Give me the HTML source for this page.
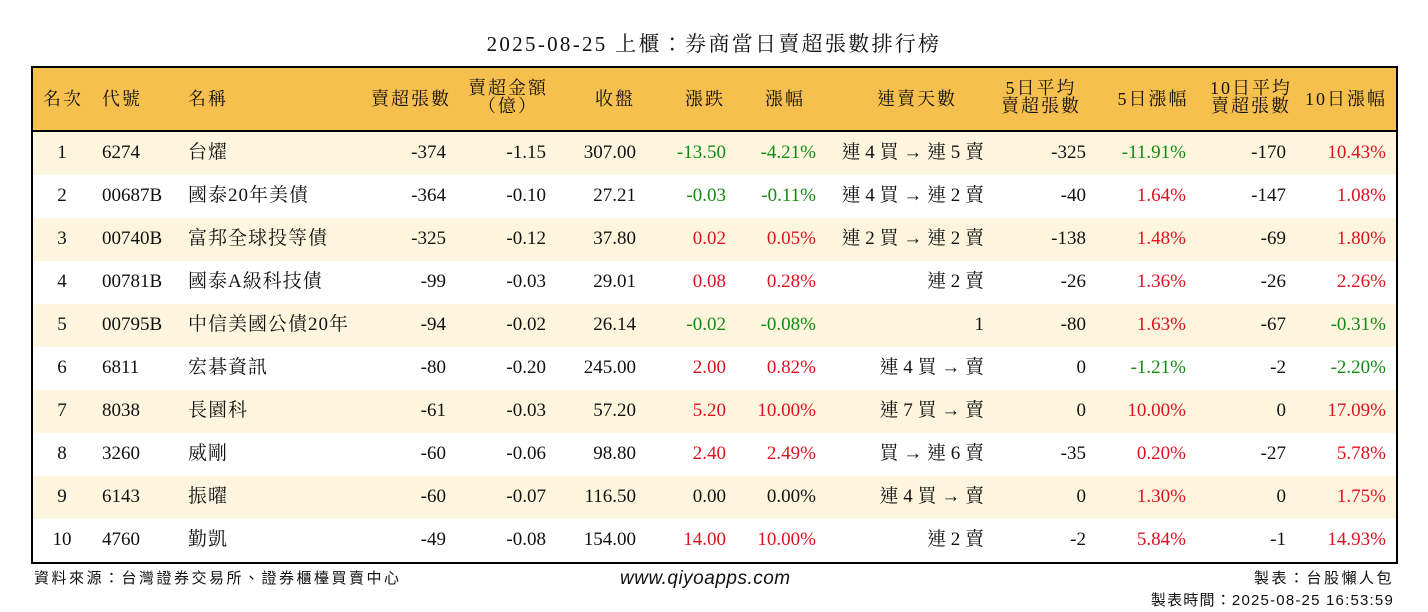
<!DOCTYPE html>
<html><head><meta charset="utf-8">
<style>
body{margin:0;width:1428px;height:612px;background:#fff;position:relative;overflow:hidden;font-family:"Liberation Serif","Noto Serif CJK TC","Noto Serif CJK SC",serif;color:#111}
#title{position:absolute;top:28px;left:0;width:1428px;text-align:center;font-size:21px;letter-spacing:2.3px}
#tbl{position:absolute;left:31px;top:66px;width:1363px;height:494px;border:2px solid #000;overflow:hidden}
#hdr{position:absolute;left:0;top:0;width:100%;height:62px;background:#F6C04E;border-bottom:2px solid #000}
.row{position:absolute;left:0;width:100%;height:43px}
.c{position:absolute;white-space:nowrap;font-size:19px;line-height:22px}
.h{font-size:18px;line-height:18px;text-align:center;letter-spacing:2px}
.g{color:#138a13}.r{color:#e0101e}
.foot{position:absolute;font-size:15px;font-family:"Liberation Sans","Noto Sans CJK TC",sans-serif;letter-spacing:2.5px}
</style></head><body>
<div id="title">2025-08-25 上櫃：券商當日賣超張數排行榜</div>
<div id="tbl"><div id="hdr"></div></div>
<div class="foot" style="left:34px;top:567px">資料來源：台灣證券交易所、證券櫃檯買賣中心</div>
<div class="foot" style="left:620px;top:568px;font-size:19px;font-style:italic;letter-spacing:0.5px">www.qiyoapps.com</div>
<div class="foot" style="right:34px;top:567px">製表：台股懶人包</div>
<div class="foot" style="right:34px;top:589px;letter-spacing:1.2px">製表時間：2025-08-25 16:53:59</div>
<script>
const ranks=["1","2","3","4","5","6","7","8","9","10"];
const codes=["6274","00687B","00740B","00781B","00795B","6811","8038","3260","6143","4760"];
const names=["台燿","國泰20年美債","富邦全球投等債","國泰A級科技債","中信美國公債20年","宏碁資訊","長園科","威剛","振曜","勤凱"];
const sellVol=[-374,-364,-325,-99,-94,-80,-61,-60,-60,-49];
const sellAmt=["-1.15","-0.10","-0.12","-0.03","-0.02","-0.20","-0.03","-0.06","-0.07","-0.08"];
const closes=["307.00","27.21","37.80","29.01","26.14","245.00","57.20","98.80","116.50","154.00"];
const changes=["-13.50","-0.03","0.02","0.08","-0.02","2.00","5.20","2.40","0.00","14.00"];
const pcts=["-4.21%","-0.11%","0.05%","0.28%","-0.08%","0.82%","10.00%","2.49%","0.00%","10.00%"];
const streaks=["連 4 買 → 連 5 賣","連 4 買 → 連 2 賣","連 2 買 → 連 2 賣","連 2 賣","1","連 4 買 → 賣","連 7 買 → 賣","買 → 連 6 賣","連 4 買 → 賣","連 2 賣"];
const avg5=[-325,-40,-138,-26,-80,0,0,-35,0,-2];
const pct5=["-11.91%","1.64%","1.48%","1.36%","1.63%","-1.21%","10.00%","0.20%","1.30%","5.84%"];
const avg10=[-170,-147,-69,-26,-67,-2,0,-27,0,-1];
const pct10=["10.43%","1.08%","1.80%","2.26%","-0.31%","-2.20%","17.09%","5.78%","1.75%","14.93%"];
const headers=["名次","代號","名稱","賣超張數","賣超金額<br>（億）","收盤","漲跌","漲幅","連賣天數","5日平均<br>賣超張數","5日漲幅","10日平均<br>賣超張數","10日漲幅"];
const cols=[{x:29,a:"c"},{x:69,a:"l"},{x:155,a:"l"},{x:413,a:"r"},{x:513,a:"r"},{x:603,a:"r"},{x:693,a:"r"},{x:783,a:"r"},{x:951,a:"r"},{x:1053,a:"r"},{x:1153,a:"r"},{x:1253,a:"r"},{x:1353,a:"r"}];
const hdrC=[30,51,170,378,475,582,672,752,884,1008,1120,1218,1313];
const tbl=document.getElementById('tbl'),hdr=document.getElementById('hdr');
headers.forEach((h,i)=>{const d=document.createElement('div');d.className='c h';d.innerHTML=h;


hdr.appendChild(d);const two=h.includes('<br>');d.style.top=(two?11:22)+'px';d.style.left=(hdrC[i]-60)+'px';d.style.width='120px';
if(i==1||i==2){d.style.textAlign='left';d.style.left=cols[i].x+'px';}});
function cls(v){return String(v).startsWith('-')?'g':(parseFloat(v)>0?'r':'');}
for(let k=0;k<10;k++){
 const row=document.createElement('div');row.className='row';row.style.top=(64+k*43)+'px';
 row.style.background=k%2==0?'#FEF5DE':'#fff';
 
 
 tbl.appendChild(row);
 const vals=[ranks[k],codes[k],names[k],sellVol[k],sellAmt[k],closes[k],changes[k],pcts[k],streaks[k],avg5[k],pct5[k],avg10[k],pct10[k]];
 vals.forEach((v,i)=>{const d=document.createElement('div');d.className='c';d.textContent=v;
  
  
  d.style.top='10px';
  if(i==2)d.style.letterSpacing='1px';
  if([6,7,10,12].includes(i))d.className+=' '+cls(v);
  const c=cols[i];
  if(c.a=='l')d.style.left=c.x+'px';else if(c.a=='r')d.style.right=(1363-c.x)+'px';else{d.style.left=(c.x-20)+'px';d.style.width='40px';d.style.textAlign='center';}
  row.appendChild(d);});
}
</script>
</body></html>
